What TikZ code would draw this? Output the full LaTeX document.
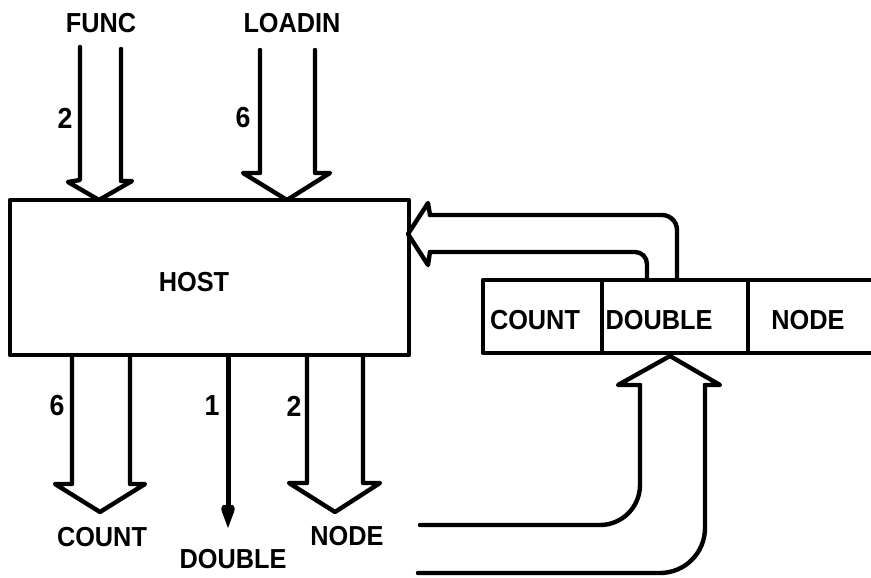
\documentclass[tikz,border=0pt]{standalone}
\usepackage{fontspec}
\setmainfont{Liberation Sans}[FakeStretch=0.92]
\usetikzlibrary{arrows.meta}
\begin{document}
\begin{tikzpicture}[x=1pt,y=-1pt, line width=4.4pt, line join=round, line cap=round,
  lbl/.style={font=\fontsize{27.5}{28}\selectfont\bfseries, inner sep=0pt},
  num/.style={font=\fontsize{29}{29}\selectfont\bfseries, inner sep=0pt},
  box/.style={draw, line width=4.4pt, inner sep=0pt, outer sep=0pt, anchor=north west},
  hollow/.style={draw, line width=4.4pt, line join=round, line cap=round}]
\useasboundingbox (0,0) rectangle (871,578);
% HOST block
\node[box, minimum width=399pt, minimum height=155pt] (host) at (10,200) {};
\node[lbl] (hostt) at (194,282) {HOST};
% register
\node[box, minimum width=119pt, minimum height=73pt] (rc) at (483,280) {};
\node[box, minimum width=146pt, minimum height=73pt] (rd) at (602,280) {};
\coordinate (rend) at (878,300);
\draw (rd.north east) -- (rd.north east -| rend);
\draw (rd.south east) -- (rd.south east -| rend);
\node[lbl] (tc) at (535,320) {COUNT};
\node[lbl] (td) at (659,320) {DOUBLE};
\node[lbl] (tn) at (808,320) {NODE};
% top labels
\node[lbl] (func) at (101,23) {FUNC};
\node[lbl] (loadin) at (292,23) {LOADIN};
\node[num] (n2a) at (65,118) {2};
\node[num] (n6a) at (243,118) {6};
% FUNC arrow
\draw[hollow] (80,47) -- (80,180) -- (68,182) -- (99,200) -- (132,181) -- (121,181) -- (121,49);
% LOADIN arrow
\draw[hollow] (260,50) -- (260,173) -- (243,173) -- (287,200) -- (330,173) -- (315,173) -- (315,50);
% feedback arrow into HOST
\draw[hollow, rounded corners=15pt] (677,280) -- (677,215) -- (430,215);
\draw[hollow, rounded corners=12pt] (647,280) -- (647,252) -- (430,252);
\draw[hollow] (430,215) -- (428,203) -- (408,234) -- (428,265) -- (430,252);
% bottom outputs
\draw[hollow] (72,355) -- (72,484) -- (55,484) -- (100,512) -- (145,484) -- (130,484) -- (130,355);
\coordinate (dtip) at (228,528);
\draw[line width=5pt, line cap=butt] (228,355) -- (228,510);
\fill (dtip) -- (222,512) .. controls (221,508) .. (223,505) -- (233,505) .. controls (235,508) .. (234,512) -- cycle;
\draw[hollow] (307,355) -- (307,483) -- (289,483) -- (335,512) -- (380,483) -- (363,483) -- (363,355);
\node[num] (n6b) at (57,406) {6};
\node[num] (n1b) at (212,406) {1};
\node[num] (n2b) at (294,406) {2};
\node[lbl] (lcount) at (102,537) {COUNT};
\node[lbl] (ldouble) at (233,559) {DOUBLE};
\node[lbl] (lnode) at (347,536) {NODE};
% input arrow into DOUBLE
\draw[hollow, rounded corners=40pt] (420,525) -- (640,525) -- (640,385);
\draw[hollow, rounded corners=45pt] (418,573) -- (705,573) -- (705,385);
\draw[hollow] (640,385) -- (618,385) -- (670,356) -- (720,385) -- (705,385);
\end{tikzpicture}
\end{document}
